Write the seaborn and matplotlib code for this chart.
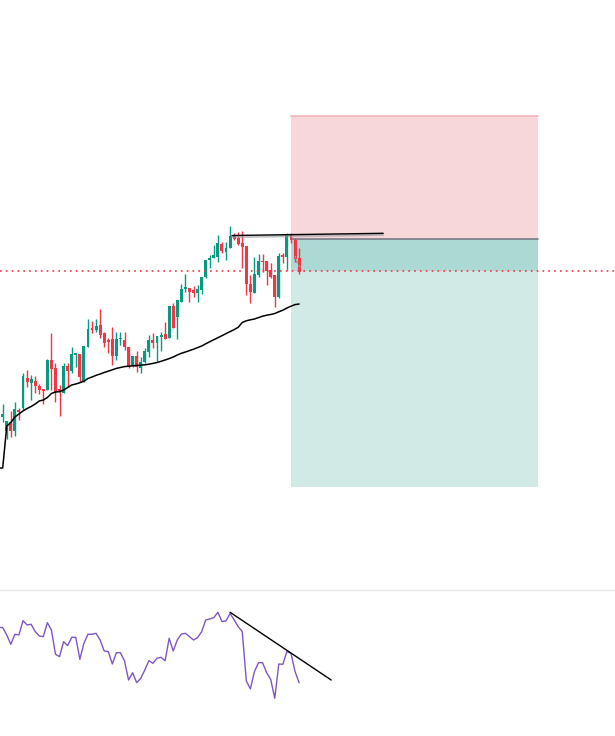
import numpy as np
import pandas as pd
import seaborn as sns
import matplotlib.pyplot as plt
from matplotlib.patches import Rectangle

# bar data, candle index -1 .. 73 (price in points)
opens = [279, 283, 269.3, 278, 269.3, 290, 292.3, 321.7, 316.7, 319, 314, 311, 310, 339.7, 332, 311,
         306.7, 334.3, 329.3, 345.5, 346, 318.3, 353.3, 372, 370, 375, 367.3, 360, 361, 344.3, 360.7,
         360, 352.7, 334, 344, 331.7, 338.3, 348.3, 360, 356.7, 363.3, 366, 361.7, 394, 382.7, 398.3,
         410.7, 411.7, 410, 407.3, 410, 422.7, 440, 441.7, 443.3, 456, 448.3, 451.7, 464, 461.7, 457.3,
         454, 416, 407.3, 425, 439.3, 439.3, 430, 425, 403.3, 445, 442.7, 465, 460, 441.7]
highs = [286, 296, 279, 289, 298.3, 292.3, 327.3, 330, 325, 324, 315.7, 311, 340.7, 367.3, 336.7, 315,
         337.3, 337.3, 353.3, 346.5, 346, 354.3, 381, 379.3, 381, 391, 368, 362, 373.3, 368.3, 368.3,
         368.3, 353, 344, 349.3, 343.3, 351.7, 365, 367.3, 364, 368.3, 378.3, 394, 397.3, 400, 415.7,
         426, 412, 414.3, 415, 422.7, 440, 445, 455, 465, 458.3, 458.3, 474, 466.7, 468.3, 469,
         454, 425, 443.3, 445.7, 445.7, 439.3, 436.7, 425, 446.7, 446.7, 466.7, 467, 461.7, 451.7]
lows = [277, 278.3, 261, 263.3, 264, 280, 290, 312.7, 300, 307, 305.7, 296, 310, 310, 298.3, 284.3,
        306.7, 312.7, 327.3, 333.3, 318.3, 318.3, 353.3, 366.7, 368.3, 362.3, 353.3, 347, 335, 340, 355,
        350, 331.7, 333.3, 328.3, 327.3, 336.7, 343.3, 351.7, 339, 349.3, 361, 361.7, 371.7, 361, 398.3,
        408.3, 398.3, 403.3, 398.3, 406, 421.7, 431.7, 441.7, 438.3, 446.7, 440, 451.7, 460, 455, 431.7,
        405, 396.7, 407.3, 423.3, 428.3, 415, 421.7, 392.7, 401.7, 436.7, 430, 456.7, 438.3, 426]
closes = [284, 285.7, 279, 269.3, 291, 288.3, 324, 318.3, 321, 314.3, 310, 309.3, 339.7, 331, 307.7, 307.7,
          334.3, 329.3, 346, 346, 323.3, 354.3, 371, 370, 374.3, 365.3, 356.7, 358.3, 344.3, 361, 361.7,
          353.3, 334, 344, 333.3, 338.3, 349.3, 360, 356.7, 364, 365, 361, 394, 371.7, 400, 410.7,
          412.7, 408.3, 406.7, 410.7, 422.7, 440, 441.7, 445, 457.3, 449, 451.7, 464, 460.7, 456, 453.3,
          416, 408.3, 426, 439.3, 438.3, 429.3, 423.3, 403.3, 444, 442.7, 465, 460, 440.7, 428.3]

ma = [232, 232, 274, 277.5, 283, 286, 289, 291.5, 293.5, 296, 299, 300, 302.5, 306.5, 308, 308.3,
      310, 312.5, 315, 316, 317.3, 318.7, 321.5, 323, 324.7, 326, 327.5, 328.8, 330.2, 331.6, 332.5,
      333.4, 333.8, 334.2, 334.5, 334.8, 335.2, 335.8, 336.6, 337.5, 338.7, 340, 341.4, 343, 345, 346.7,
      348, 349.4, 350.8, 352.4, 354, 356.2, 358.3, 360.3, 362.3, 364.3, 366.4, 368.4, 370.4, 372.7, 377.5,
      379.2, 380.2, 381, 382.4, 383.8, 384.8, 385.5, 386.5, 388.2, 389.8, 392, 393.8, 395.4, 396]

rsi = [72, 71.8, 66.3, 59.3, 66.8, 66.3, 77, 73.8, 74.3, 68.8, 65.5, 65, 75.5, 70, 51.8, 50,
       61.3, 58.3, 64.5, 64.5, 48, 60, 66.8, 66.8, 67.5, 62.5, 54.3, 53.8, 44.5, 53, 53,
       46.8, 32.5, 38, 30.5, 33.8, 40, 47, 45, 48.8, 49.5, 47, 63.8, 54.3, 62.5, 67,
       67.5, 65, 62.5, 64.3, 68.8, 77.5, 78.3, 79.3, 83.3, 76.3, 76.8, 82.5, 77.5, 72.5, 68.8,
       31.8, 25.8, 38.8, 45.5, 45.5, 38, 33, 18.8, 44.5, 44.3, 53.8, 52.5, 38.8, 30.5]

# short position tool
pos_start, pos_end = 71.0, 131.85
stop_price, entry_price, target_price = 584, 460.7, 213
last_price = 428.7

# drawings
trend_x = [56.5, 93.7]
trend_y = [464.5, 466.7]
rsi_trend_x = [56.0, 80.9]
rsi_trend_y = [83.3, 32.5]

GREEN = "#089981"
RED = "#f23645"

df = pd.DataFrame({"i": np.arange(-1, len(opens) - 1), "open": opens, "high": highs,
                   "low": lows, "close": closes, "ma": ma, "rsi": rsi})
df["color"] = np.where(df["close"] >= df["open"], GREEN, RED)

sns.set_theme(style="white")
fig = plt.figure(figsize=(6.15, 7.36), dpi=100)
ax = fig.add_axes([0, 146 / 736, 1, 590 / 736])
ax2 = fig.add_axes([0, 0, 1, 146 / 736])

# position boxes
ax.add_patch(Rectangle((pos_start, entry_price), pos_end - pos_start, stop_price - entry_price,
                       facecolor="#f8d7da", lw=0, zorder=1))
ax.add_patch(Rectangle((pos_start, target_price), pos_end - pos_start, entry_price - target_price,
                       facecolor="#d1eae5", lw=0, zorder=1))
ax.add_patch(Rectangle((pos_start, last_price), pos_end - pos_start, entry_price - last_price,
                       facecolor="#acd9d3", lw=0, zorder=1))
ax.plot([pos_start, pos_end], [stop_price, stop_price], color="#f5b5bb", lw=1.2, zorder=2)
ax.plot([pos_start, pos_end], [entry_price, entry_price], color="#787b86", lw=1.2, zorder=2)

# candles
ax.vlines(df["i"], df["low"], df["high"], colors=df["color"], lw=1.0, zorder=3)
body_lo = df[["open", "close"]].min(axis=1)
body_h = (df["close"] - df["open"]).abs().clip(lower=1.2)
ax.bar(df["i"], body_h, bottom=body_lo, width=0.72, color=df["color"], lw=0, zorder=4)

sns.lineplot(data=df, x="i", y="ma", ax=ax, color="black", lw=1.1, zorder=5)
ax.plot(trend_x, [v - 1.5 for v in trend_y], color="#9598a1", lw=1.6, alpha=0.6, zorder=5)
ax.plot(trend_x, trend_y, color="black", lw=1.0, zorder=6)
ax.axhline(last_price, color=RED, lw=1.2, ls=(0, (1, 2.5)), zorder=6)

# little projection arrow near the last bar
ax.plot([72.0, 72.6, 73.3], [444, 436, 433], color="#9598a1", lw=1, ls=(0, (2, 1.5)), zorder=6)

ax.set_xlim(-0.665, 150.8)
ax.set_ylim(110, 700)

sns.lineplot(data=df, x="i", y="rsi", ax=ax2, color="#7e57c2", lw=1.0)
ax2.plot(rsi_trend_x, rsi_trend_y, color="black", lw=1.0)
ax2.set_xlim(-0.665, 150.8)
ax2.set_ylim(-9.5, 100)

for a in (ax, ax2):
    a.set_xticks([])
    a.set_yticks([])
    a.set_xlabel("")
    a.set_ylabel("")
    for s in a.spines.values():
        s.set_visible(False)
ax2.spines["top"].set_visible(True)
ax2.spines["top"].set_color("#e8e8ea")
ax2.spines["top"].set_linewidth(1)

fig.savefig("out.png", dpi=100)
